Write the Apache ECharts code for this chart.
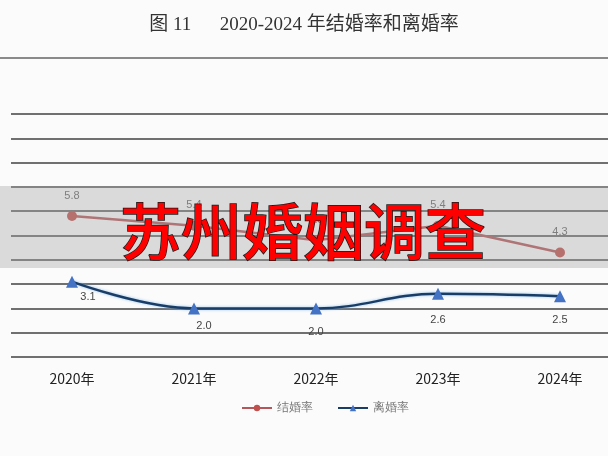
<!DOCTYPE html>
<html>
<head>
<meta charset="utf-8">
<title>2020-2024 年结婚率和离婚率</title>
<script src="https://cdn.jsdelivr.net/npm/echarts@6/dist/echarts.min.js"></script>
<style>
  html, body { margin: 0; padding: 0; background: #fbfbfb; }
  #main { width: 608px; height: 456px; }
</style>
</head>
<body>
<div id="main"></div>
<script type="text/javascript">
// data
var years = ['2020年', '2021年', '2022年', '2023年', '2024年'];
var marriageRate = [5.8, 5.4, 4.8, 5.4, 4.3];
var divorceRate = [3.1, 2.0, 2.0, 2.6, 2.5];

// label nudges for the divorce series (as placed in the original figure)
var divorceLabelNudge = [[16, -6], [10, -4], [0, 2], [0, 5], [0, 2]];

var myChart = echarts.init(document.getElementById('main'));

function fmt(p) { return p.value.toFixed(1); }

var divorceData = divorceRate.map(function (v, i) {
    return { value: v, label: { offset: divorceLabelNudge[i] } };
});

myChart.setOption({
    backgroundColor: '#fbfbfb',
    animation: false,
    title: {
        text: '图 11      2020-2024 年结婚率和离婚率',
        left: 'center',
        top: 11,
        textStyle: {
            fontFamily: 'Liberation Serif, Noto Sans CJK SC',
            fontWeight: 'normal',
            fontSize: 19,
            color: '#333'
        }
    },
    legend: {
        top: 397,
        left: 236,
        itemWidth: 30,
        itemHeight: 8,
        itemGap: 24,
        textStyle: { color: '#777', fontSize: 12 },
        data: ['结婚率', '离婚率']
    },
    // grid 0 only carries the horizontal lines, grid 1 carries the data
    grid: [
        { left: 11, top: 114, right: 0, bottom: 99 },
        { left: 72, top: 114, right: 48, bottom: 99 }
    ],
    xAxis: [
        {
            type: 'category',
            gridIndex: 0,
            data: years,
            show: false
        },
        {
            type: 'category',
            gridIndex: 1,
            data: years,
            boundaryGap: false,
            axisLine: { show: false },
            axisTick: { show: false },
            axisLabel: {
                margin: 15,
                color: '#222',
                fontSize: 14,
                fontFamily: 'Noto Sans CJK SC'
            }
        }
    ],
    yAxis: [
        {
            type: 'value',
            gridIndex: 0,
            min: 0,
            max: 10,
            interval: 1,
            axisLabel: { show: false },
            axisLine: { show: false },
            axisTick: { show: false },
            splitLine: { lineStyle: { color: '#707070', width: 2 } }
        },
        {
            type: 'value',
            gridIndex: 1,
            min: 0,
            max: 10,
            interval: 1,
            axisLabel: { show: false },
            axisLine: { show: false },
            axisTick: { show: false },
            splitLine: { show: false }
        }
    ],
    series: [
        {
            name: '结婚率',
            type: 'line',
            xAxisIndex: 1,
            yAxisIndex: 1,
            data: marriageRate,
            symbol: 'circle',
            symbolSize: 10,
            itemStyle: { color: '#c0504d' },
            lineStyle: { color: '#b5575a', width: 2.5 },
            label: {
                show: true,
                position: 'top',
                distance: 10,
                color: '#666',
                fontSize: 11,
                formatter: fmt
            }
        },
        {
            name: '离婚率',
            type: 'line',
            xAxisIndex: 1,
            yAxisIndex: 1,
            data: divorceData,
            smooth: 0.4,
            symbol: 'triangle',
            symbolSize: 12,
            itemStyle: { color: '#4472c4' },
            lineStyle: {
                color: '#1a3d68',
                width: 2.5,
                shadowColor: 'rgba(120,180,230,0.8)',
                shadowBlur: 3
            },
            label: {
                show: true,
                position: 'bottom',
                distance: 10,
                color: '#444',
                fontSize: 11,
                formatter: fmt
            }
        }
    ],
    graphic: [
        {
            type: 'rect',
            z: 100,
            shape: { x: 0, y: 57, width: 608, height: 2 },
            style: { fill: '#8a8a8a' }
        },
        {
            type: 'rect',
            z: 100,
            shape: { x: 0, y: 186, width: 608, height: 82 },
            style: { fill: 'rgba(165,165,165,0.38)' }
        },
        {
            type: 'text',
            z: 101,
            x: 303,
            y: 232,
            style: {
                text: '苏州婚姻调查',
                fontFamily: 'Noto Sans CJK SC',
                fontSize: 61,
                fontWeight: 500,
                fill: '#ff0000',
                stroke: '#1a1a1a',
                lineWidth: 1.5,
                align: 'center',
                verticalAlign: 'middle'
            }
        }
    ]
});
</script>
</body>
</html>
